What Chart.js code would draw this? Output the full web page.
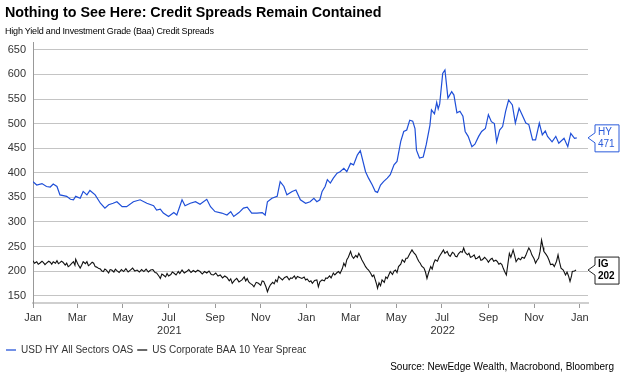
<!DOCTYPE html>
<html>
<head>
<meta charset="utf-8">
<script src="https://cdn.jsdelivr.net/npm/chart.js@4.4.1/dist/chart.umd.min.js"></script>
<style>
  body { margin:0; background:#fff; font-family:"Liberation Sans", Arial, sans-serif; }
  #wrap { position:relative; width:624px; height:381px; overflow:hidden; }
  #titulo { position:absolute; left:5px; top:4px; font-size:14.3px; font-weight:bold; color:#000; white-space:nowrap; }
  #subtitulo { position:absolute; left:5px; top:26px; font-size:9px; color:#000; white-space:nowrap; letter-spacing:-0.2px; }
  #fuente { position:absolute; right:10px; top:361px; font-size:10px; color:#000; white-space:nowrap; }
  canvas { position:absolute; left:0; top:0; }
</style>
</head>
<body>
<div id="wrap">
  <canvas id="grafica" width="624" height="381"></canvas>
  <div id="titulo">Nothing to See Here: Credit Spreads Remain Contained</div>
  <div id="subtitulo">High Yield and Investment Grade (Baa) Credit Spreads</div>
  <div id="fuente">Source: NewEdge Wealth, Macrobond, Bloomberg</div>
</div>
<script>
// days counted from 1 Jan 2021
var seriesNames = ["USD HY All Sectors OAS", "US Corporate BAA 10 Year Spread"];
var seriesTags = ["HY", "IG"];

var hyDays = [0,5,12,18,23,27,32,36,45,50,54,57,63,67,72,76,83,90,96,101,107,112,119,125,134,143,152,161,165,170,
  174,181,188,192,199,203,210,217,223,232,237,243,252,259,264,268,275,281,286,292,299,306,310,313,319,326,330,335,339,346,
  351,357,364,370,375,379,383,386,390,393,397,401,406,410,415,419,424,428,433,437,439,444,448,453,457,460,464,468,473,477,
  482,486,491,495,499,503,507,510,512,516,521,525,530,532,536,539,541,543,547,550,554,559,562,566,570,574,577,581,586,590,
  595,599,604,608,612,616,619,623,627,631,635,640,644,649,653,658,662,667,671,676,680,684,687,693,698,702,709,714,718,723,726];
var hyValues = [382,375,378,372,371,377,372,355,352,346,345,352,348,362,355,364,355,338,328,335,338,341,331,331,341,345,338,333,324,326,
  318,311,319,314,345,333,338,341,336,346,331,321,318,314,321,311,319,328,330,318,318,319,314,341,348,352,382,372,355,362,
  365,345,338,341,348,341,345,362,372,386,379,389,399,402,409,402,419,416,436,445,433,402,389,375,362,360,375,382,389,396,
  416,423,464,484,487,507,505,490,446,430,432,457,497,528,520,543,530,540,602,609,552,565,558,522,525,515,484,474,453,458,
  474,484,490,518,504,500,463,487,494,525,548,538,501,531,518,501,498,467,467,501,477,485,474,463,474,460,470,453,480,470,471];

var igDays = [0,2,5,7,9,12,14,16,18,21,23,25,27,30,32,34,36,38,40,43,45,47,49,52,54,56,57,60,63,65,
  67,70,72,74,76,79,81,83,85,88,90,92,94,96,98,101,103,105,108,110,112,115,118,121,124,127,130,133,136,139,
  142,145,148,151,154,157,160,163,165,168,170,172,174,177,179,181,184,186,188,191,194,196,199,202,205,208,211,214,217,220,
  223,226,229,232,235,238,241,244,247,250,253,256,259,262,264,266,269,272,275,279,282,284,286,288,290,293,295,298,301,304,
  306,308,311,313,315,317,320,322,324,326,328,330,333,336,339,342,344,346,349,351,353,356,359,362,364,366,369,371,373,376,
  379,381,383,386,389,391,393,396,398,401,403,406,408,410,413,415,417,419,421,424,426,428,431,433,435,437,439,442,444,446,
  448,451,453,455,457,459,460,462,464,466,469,471,473,475,477,480,482,484,486,488,491,493,496,498,500,503,506,508,511,513,
  515,517,519,522,524,526,528,531,533,535,537,540,542,544,546,548,550,553,555,557,560,562,564,566,568,571,573,575,577,580,
  582,584,586,589,591,593,596,598,600,603,606,608,611,613,615,618,620,622,624,626,628,630,632,634,636,638,641,643,645,648,
  651,653,656,658,660,662,664,666,669,671,673,675,677,679,681,682,685,687,689,691,694,696,699,701,703,705,708,711,713,715,
  717,719,720,723,725];
var igValues = [221,216,219,214,216,220,217,213,216,220,218,214,219,216,221,215,217,220,218,212,216,209,211,216,219,212,224,214,206,212,
  219,215,219,211,213,218,216,209,208,205,204,200,199,204,202,196,203,202,198,204,201,197,203,199,205,198,202,206,200,202,
  198,203,199,204,198,202,203,197,196,190,185,194,192,188,195,190,193,198,196,192,199,195,202,196,199,203,197,201,198,202,
  199,194,199,196,200,193,192,196,190,192,186,190,187,180,184,175,181,185,178,182,188,180,185,178,175,172,168,177,175,171,
  180,179,168,158,166,172,177,174,182,178,189,186,182,187,189,182,186,185,190,184,189,187,185,188,182,184,178,180,175,181,
  182,168,178,182,180,186,185,190,186,196,192,197,199,195,205,216,210,223,228,240,230,226,232,228,236,230,223,215,209,205,
  202,195,189,192,182,172,165,176,170,182,177,188,185,192,199,193,200,202,197,209,214,223,218,226,226,235,243,238,233,226,
  220,216,210,206,198,185,196,209,204,216,223,220,228,233,238,243,236,240,233,230,238,236,230,229,235,240,238,247,238,233,
  236,228,229,233,225,226,230,222,223,228,223,218,224,226,220,222,219,214,216,213,205,198,192,214,236,228,243,232,219,226,
  223,228,226,232,240,247,242,233,225,216,222,226,240,263,248,240,234,229,222,213,214,209,220,233,218,206,202,192,198,190,
  179,190,199,200,202];

var yTicks = [150,200,250,300,350,400,450,500,550,600,650];
var xTickDays = [0,59,120,181,243,304,365,424,485,546,608,669,730];
var xTickLabels = ["Jan","Mar","May","Jul","Sep","Nov","Jan","Mar","May","Jul","Sep","Nov","Jan"];
var yearLabels = ["2021", "2022"];
var yearCenters = [182, 547];

var lineColors = ["#1f4fd8", "#111111"];
var legendColors = ["#7391e6", "#6a6a6a"];

function puntos(dias, valores) {
    return dias.map(function(d, i){ return {x: d, y: valores[i]}; });
}

var anios = {
    id: 'anios',
    afterDraw: function(chart) {
        var ctx = chart.ctx, xs = chart.scales.x;
        ctx.save();
        ctx.font = '11px "Liberation Sans", Arial';
        ctx.fillStyle = '#333';
        ctx.textAlign = 'center';
        ctx.textBaseline = 'middle';
        for (var i = 0; i < yearLabels.length; i++) {
            ctx.fillText(yearLabels[i], xs.getPixelForValue(yearCenters[i]), 331);
        }
        // the legend row is cut off in the original
        var lg = chart.legend;
        ctx.fillStyle = '#fff';
        ctx.fillRect(306, lg.top, lg.right - 306, lg.height);
        ctx.restore();
    }
};

// callout boxes with the last value
var etiquetas = {
    id: 'etiquetas',
    afterDatasetsDraw: function(chart) {
        var ctx = chart.ctx, ys = chart.scales.y;
        var x0 = chart.chartArea.right;
        chart.data.datasets.forEach(function(ds, i) {
            var ultimo = ds.data[ds.data.length - 1].y;
            var y = ys.getPixelForValue(ultimo);
            var bx = x0 + 7, bw = 24, top = y - 13, bot = y + 14;
            ctx.save();
            ctx.beginPath();
            ctx.moveTo(x0, y);
            ctx.lineTo(bx, y - 5);
            ctx.lineTo(bx, top);
            ctx.lineTo(bx + bw, top);
            ctx.lineTo(bx + bw, bot);
            ctx.lineTo(bx, bot);
            ctx.lineTo(bx, y + 5);
            ctx.closePath();
            ctx.fillStyle = '#fff';
            ctx.fill();
            ctx.lineWidth = 1;
            ctx.strokeStyle = i == 0 ? '#2a5bdb' : '#222';
            ctx.stroke();
            ctx.fillStyle = i == 0 ? '#2a5bdb' : '#000';
            ctx.font = (i == 0 ? '' : 'bold ') + '10px "Liberation Sans", Arial';
            ctx.textAlign = 'left';
            ctx.textBaseline = 'middle';
            ctx.fillText(seriesTags[i], bx + 3, y - 6);
            ctx.fillText(String(ultimo), bx + 3, y + 6);
            ctx.restore();
        });
    }
};

Chart.defaults.font.family = '"Liberation Sans", Arial, sans-serif';

var chart = new Chart(document.getElementById("grafica").getContext("2d"), {
    type: "line",
    data: {
        datasets: [
            { label: seriesNames[0], data: puntos(hyDays, hyValues), borderColor: lineColors[0], backgroundColor: lineColors[0], borderWidth: 1.2, pointRadius: 0, tension: 0 },
            { label: seriesNames[1], data: puntos(igDays, igValues), borderColor: lineColors[1], backgroundColor: lineColors[1], borderWidth: 1.1, pointRadius: 0, tension: 0 }
        ]
    },
    options: {
        responsive: false,
        animation: false,
        devicePixelRatio: 1,
        layout: { padding: { left: 2, right: 36, top: 42, bottom: 16 } },
        plugins: {
            tooltip: { enabled: false },
            legend: {
                position: 'bottom',
                align: 'start',
                labels: {
                    boxWidth: 10, boxHeight: 2, padding: 4, color: '#333',
                    font: { size: 10 },
                    generateLabels: function(chart) {
                        var items = Chart.defaults.plugins.legend.labels.generateLabels(chart);
                        items.forEach(function(it, i) {
                            it.fillStyle = legendColors[i];
                            it.strokeStyle = legendColors[i];
                            it.lineWidth = 0;
                        });
                        return items;
                    }
                }
            }
        },
        scales: {
            x: {
                type: 'linear', min: 0, max: 741,
                afterBuildTicks: function(scale) { scale.ticks = xTickDays.map(function(v){ return {value: v}; }); },
                afterFit: function(scale) { scale.height = 38; },
                grid: { drawOnChartArea: false, drawTicks: true, tickLength: 5, color: '#999' },
                border: { color: '#cfcfcf', width: 2 },
                ticks: { autoSkip: false, maxRotation: 0, padding: 3, color: '#333', font: { size: 11 },
                    callback: function(v, i) { return xTickLabels[i]; } }
            },
            y: {
                min: 135, max: 666,
                afterBuildTicks: function(scale) { scale.ticks = yTicks.map(function(v){ return {value: v}; }); },
                afterFit: function(scale) { scale.width = 31; },
                grid: { color: '#c4c4c4', drawTicks: false },
                border: { color: '#999' },
                ticks: { padding: 7, color: '#333', font: { size: 11 } }
            }
        }
    },
    plugins: [anios, etiquetas]
});
</script>
</body>
</html>
